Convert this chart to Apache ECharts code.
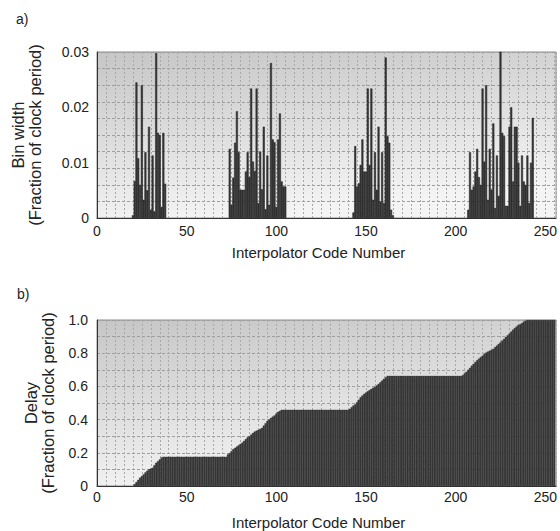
<!DOCTYPE html>
<html><head><meta charset="utf-8">
<script src="https://cdn.jsdelivr.net/npm/echarts@6/dist/echarts.min.js"></script>
<style>html,body{margin:0;padding:0;background:#fff}#c{width:560px;height:531px}</style>
</head><body><div id="c"></div>
<script>
// ---- data ----
const binTickLabels = ['0', '0.01', '0.02', '0.03'];
const delayTickLabels = ['0', '0.2', '0.4', '0.6', '0.8', '1.0'];

const cluster1Start = 20;
const cluster1 = [0.0005, 0.0067, 0.0245, 0.0108, 0.0060, 0.0240, 0.0033, 0.0119, 0.0050, 0.0165,
  0.0015, 0.0113, 0.0012, 0.0298, 0.0154, 0.0150, 0.0020, 0.0154, 0.0062];
const cluster2Start = 74;
const cluster2 = [0.0125, 0.0024, 0.0073, 0.0136, 0.0193, 0.0119, 0.0051, 0.0051, 0.0051, 0.0084,
  0.0119, 0.0074, 0.0234, 0.0102, 0.0085, 0.0234, 0.0027, 0.0120, 0.0052, 0.0165,
  0.0016, 0.0113, 0.0024, 0.0280, 0.0142, 0.0137, 0.0020, 0.0142, 0.0189, 0.0066,
  0.0057, 0.0057];
const cluster3Start = 143;
const cluster3 = [0.0010, 0.0130, 0.0057, 0.0063, 0.0096, 0.0142, 0.0084, 0.0084, 0.0234, 0.0096,
  0.0234, 0.0033, 0.0119, 0.0051, 0.0165, 0.0030, 0.0119, 0.0027, 0.0290, 0.0148,
  0.0136, 0.0015, 0.0005];
const cluster4Start = 207;
const cluster4 = [0.0015, 0.0119, 0.0051, 0.0057, 0.0084, 0.0125, 0.0074, 0.0060, 0.0234, 0.0102,
  0.0240, 0.0033, 0.0125, 0.0051, 0.0171, 0.0018, 0.0113, 0.0040, 0.0302, 0.0154,
  0.0148, 0.0022, 0.0022, 0.0165, 0.0200, 0.0066, 0.0165, 0.0165, 0.0100, 0.0022,
  0.0113, 0.0066, 0.0060, 0.0113, 0.0027, 0.0100, 0.0181];

// delay for code 0..255
const delay = [
  0,0,0,0,0,0,0,0,0,0, 0,0,0,0,0,0,0,0,0,0, 0,
  0.012,0.024,0.037,0.050,0.060,0.070,0.082,0.092,0.100,0.105,0.110,0.125,0.140,0.150,0.160,0.172,
  0.176,0.176,0.176,0.176,0.176,0.176,0.176,0.176,0.176,0.176,0.176,0.176,0.176,0.176,0.176,0.176,0.176,0.176,
  0.176,0.176,0.176,0.176,0.176,0.176,0.176,0.176,0.176,0.176,0.176,0.176,0.176,0.176,0.176,0.176,0.176,0.176,
  0.190,0.198,0.210,0.222,0.230,0.238,0.246,0.254,0.261,0.272,0.283,0.294,0.300,0.310,0.320,0.328,
  0.333,0.338,0.344,0.350,0.364,0.378,0.392,0.400,0.410,0.418,0.425,0.436,0.447,0.453,0.459,
  0.459,0.459,0.459,0.459,0.459,0.459,0.459,0.459,0.459,0.459,0.459,0.459,0.459,0.459,0.459,0.459,0.459,0.459,0.459,
  0.459,0.459,0.459,0.459,0.459,0.459,0.459,0.459,0.459,0.459,0.459,0.459,0.459,0.459,0.459,0.459,0.459,0.459,
  0.465,0.475,0.485,0.492,0.505,0.520,0.535,0.545,0.555,0.563,0.571,0.578,0.585,0.592,0.598,0.606,
  0.615,0.625,0.635,0.645,0.655,0.663,
  0.663,0.663,0.663,0.663,0.663,0.663,0.663,0.663,0.663,0.663,0.663,0.663,0.663,0.663,0.663,0.663,0.663,0.663,0.663,0.663,0.663,
  0.663,0.663,0.663,0.663,0.663,0.663,0.663,0.663,0.663,0.663,0.663,0.663,0.663,0.663,0.663,0.663,0.663,0.663,0.663,0.663,
  0.668,0.678,0.688,0.700,0.712,0.725,0.736,0.747,0.758,0.768,0.777,0.785,0.795,0.804,0.810,0.815,0.820,0.826,
  0.836,0.846,0.856,0.865,0.876,0.887,0.898,0.908,0.918,0.930,0.942,0.952,0.961,0.970,0.975,0.982,0.990,0.996,
  1,1,1,1,1,1,1,1,1,1,1,1,1,1,1,1
];

// ---- build ----
const binData = [];
[[cluster1Start, cluster1], [cluster2Start, cluster2], [cluster3Start, cluster3], [cluster4Start, cluster4]]
  .forEach(([s, arr]) => arr.forEach((v, i) => binData.push([s + i, v])));
const delayData = delay.map((v, i) => [i, v]).filter(d => d[1] > 0);

const FONT = '"Liberation Sans", Arial, sans-serif';
const TXT = '#222';
const bg = {type: 'linear', x: 0, y: 0, x2: 0.3, y2: 1,
  colorStops: [{offset: 0, color: '#c6c6c6'}, {offset: 1, color: '#f4f4f4'}]};
const hLine = {show: true, lineStyle: {color: '#9e9e9e', type: [3, 2], width: 1}};
const vLine = {show: true, lineStyle: {color: '#a8a8a8', type: [2, 2], width: 1}};

function labeledX(grid, margin, gap) {
  return {type: 'value', gridIndex: grid, min: 0, max: 256, interval: 50,
    axisLine: {show: true, onZero: false, lineStyle: {color: '#333', width: 1}},
    axisTick: {show: false}, splitLine: {show: false},
    axisLabel: {fontSize: 14, color: TXT, fontFamily: FONT, margin: margin, showMaxLabel: false},
    name: 'Interpolator Code Number', nameLocation: 'middle', nameGap: gap,
    nameTextStyle: {fontSize: 15, color: TXT, fontFamily: FONT, padding: [0, 16, 0, 0]}};
}
function gridX(grid) {
  return {type: 'value', gridIndex: grid, min: 0, max: 256, interval: 5,
    axisLine: {show: false}, axisTick: {show: false}, axisLabel: {show: false}, splitLine: vLine};
}

const option = {
  animation: false,
  title: [
    {text: 'a)', left: 11, top: 7, textStyle: {fontSize: 14, fontWeight: 'normal', color: TXT, fontFamily: FONT}},
    {text: 'b)', left: 12, top: 282, textStyle: {fontSize: 14, fontWeight: 'normal', color: TXT, fontFamily: FONT}}
  ],
  grid: [
    {left: 97, right: 0, top: 52, height: 166, show: true, backgroundColor: bg, borderColor: '#8a8a8a', borderWidth: 1},
    {left: 97, right: 0, top: 320, height: 167, show: true, backgroundColor: bg, borderColor: '#8a8a8a', borderWidth: 1}
  ],
  xAxis: [labeledX(0, 6, 27), gridX(0), labeledX(1, 4, 29), gridX(1)],
  yAxis: [
    {type: 'value', gridIndex: 0, min: 0, max: 0.03, interval: 0.01,
      axisLine: {show: true, lineStyle: {color: '#333'}}, axisTick: {show: false}, splitLine: {show: false},
      axisLabel: {fontSize: 14, color: TXT, fontFamily: FONT, margin: 8,
        formatter: v => binTickLabels[Math.round(v / 0.01)]},
      name: 'Bin width\n(Fraction of clock period)', nameLocation: 'middle', nameGap: 54, nameRotate: 90,
      nameTextStyle: {fontSize: 16.5, lineHeight: 17, color: TXT, fontFamily: FONT, align: 'center'}},
    {type: 'value', gridIndex: 0, min: 0, max: 0.03, interval: 0.003,
      axisLine: {show: false}, axisTick: {show: false}, axisLabel: {show: false}, splitLine: hLine},
    {type: 'value', gridIndex: 1, min: 0, max: 1, interval: 0.2,
      axisLine: {show: true, lineStyle: {color: '#333'}}, axisTick: {show: false}, splitLine: {show: false},
      axisLabel: {fontSize: 14, color: TXT, fontFamily: FONT, margin: 9,
        formatter: v => delayTickLabels[Math.round(v / 0.2)]},
      name: 'Delay\n(Fraction of clock period)', nameLocation: 'middle', nameGap: 41, nameRotate: 90,
      nameTextStyle: {fontSize: 16.5, lineHeight: 17, color: TXT, fontFamily: FONT, align: 'center'}},
    {type: 'value', gridIndex: 1, min: 0, max: 1, interval: 0.1,
      axisLine: {show: false}, axisTick: {show: false}, axisLabel: {show: false}, splitLine: hLine}
  ],
  series: [
    {type: 'bar', xAxisIndex: 0, yAxisIndex: 0, data: binData, barWidth: 2,
      itemStyle: {color: '#3a3a3a', borderColor: '#1a1a1a', borderWidth: 0.5}},
    {type: 'bar', xAxisIndex: 2, yAxisIndex: 2, data: delayData, barWidth: 2,
      itemStyle: {color: '#3a3a3a', borderColor: '#262626', borderWidth: 0.3}}
  ]
};
const chart = echarts.init(document.getElementById('c'), null, {renderer: 'svg'});
chart.setOption(option);
</script>
</body></html>
